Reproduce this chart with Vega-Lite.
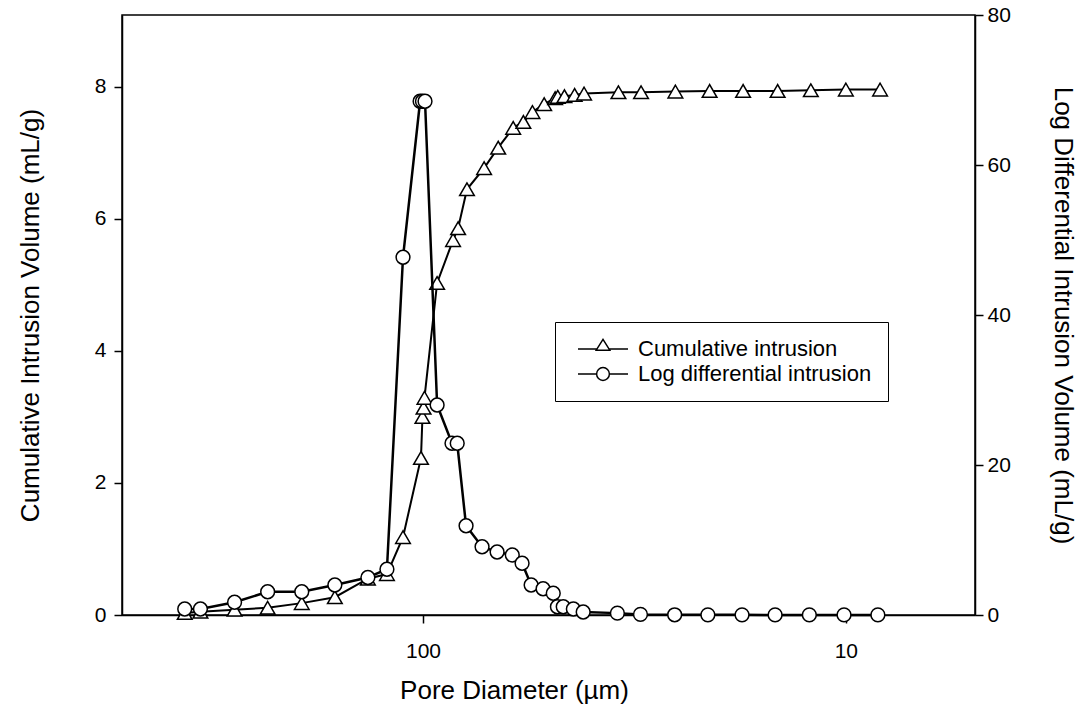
{
  "$schema": "https://vega.github.io/schema/vega-lite/v6.json",
  "autosize": {"type": "none"},
  "width": 853,
  "height": 600,
  "padding": {"left": 122, "top": 15, "right": 103, "bottom": 98},
  "background": "white",
  "config": {
    "view": {"stroke": "black", "strokeWidth": 1.5},
    "font": "Liberation Sans",
    "axis": {
      "labelFont": "Liberation Sans",
      "titleFont": "Liberation Sans",
      "labelFontSize": 21,
      "titleFontSize": 26,
      "titleFontWeight": "normal",
      "labelColor": "black",
      "titleColor": "black",
      "domainColor": "black",
      "domainWidth": 1.5,
      "tickColor": "black",
      "tickWidth": 1.5,
      "tickSize": 8,
      "grid": false
    }
  },
  "datasets": {
    "cum": [
      {"d": 366, "v": 0.03}, {"d": 336, "v": 0.05}, {"d": 279, "v": 0.08}, {"d": 233, "v": 0.11},
      {"d": 193.5, "v": 0.18}, {"d": 161.6, "v": 0.27}, {"d": 135, "v": 0.55}, {"d": 121.7, "v": 0.62},
      {"d": 111.5, "v": 1.18}, {"d": 101.1, "v": 2.38}, {"d": 100.3, "v": 3.0}, {"d": 99.7, "v": 3.14},
      {"d": 99.2, "v": 3.29}, {"d": 92.6, "v": 5.03}, {"d": 84.9, "v": 5.68}, {"d": 82.6, "v": 5.86},
      {"d": 78.7, "v": 6.45}, {"d": 71.7, "v": 6.77}, {"d": 66.4, "v": 7.08}, {"d": 61.2, "v": 7.38},
      {"d": 57.9, "v": 7.47}, {"d": 55.1, "v": 7.62}, {"d": 51.7, "v": 7.74}, {"d": 48.7, "v": 7.83},
      {"d": 48.0, "v": 7.85}, {"d": 46.3, "v": 7.86}, {"d": 43.8, "v": 7.88}, {"d": 41.6, "v": 7.9},
      {"d": 34.5, "v": 7.92}, {"d": 30.5, "v": 7.92}, {"d": 25.3, "v": 7.93}, {"d": 21.0, "v": 7.94},
      {"d": 17.5, "v": 7.94}, {"d": 14.5, "v": 7.94}, {"d": 12.1, "v": 7.95}, {"d": 10.0, "v": 7.96},
      {"d": 8.3, "v": 7.96}
    ],
    "logdiff": [
      {"d": 366, "v": 0.8}, {"d": 336, "v": 0.8}, {"d": 279, "v": 1.7}, {"d": 233, "v": 3.1},
      {"d": 193.5, "v": 3.1}, {"d": 161.6, "v": 4.0}, {"d": 135, "v": 5.0}, {"d": 121.7, "v": 6.1},
      {"d": 111.5, "v": 47.7}, {"d": 101.6, "v": 68.5}, {"d": 100.3, "v": 68.5}, {"d": 98.9, "v": 68.5},
      {"d": 92.6, "v": 28.0}, {"d": 85.4, "v": 22.9}, {"d": 83.0, "v": 22.9}, {"d": 79.1, "v": 11.9},
      {"d": 72.5, "v": 9.1}, {"d": 66.8, "v": 8.4}, {"d": 61.5, "v": 8.0}, {"d": 58.3, "v": 6.9},
      {"d": 55.5, "v": 4.0}, {"d": 52.0, "v": 3.5}, {"d": 49.2, "v": 2.9}, {"d": 48.1, "v": 1.1},
      {"d": 46.6, "v": 1.1}, {"d": 44.1, "v": 0.8}, {"d": 41.8, "v": 0.4}, {"d": 34.7, "v": 0.25},
      {"d": 30.6, "v": 0.08}, {"d": 25.4, "v": 0.03}, {"d": 21.2, "v": 0.02}, {"d": 17.6, "v": 0.02},
      {"d": 14.7, "v": 0.01}, {"d": 12.2, "v": 0.01}, {"d": 10.1, "v": 0.01}, {"d": 8.4, "v": 0.01}
    ]
  },
  "encoding": {
    "x": {
      "field": "d",
      "type": "quantitative",
      "scale": {"type": "log", "domain": [4.95, 515], "reverse": true, "nice": false},
      "axis": {
        "title": "Pore Diameter (µm)",
        "values": [100, 10],
        "format": "d",
        "labelPadding": 17,
        "titlePadding": 16,
        "titleX": 392
      }
    }
  },
  "layer": [
    {
      "data": {"name": "cum"},
      "encoding": {
        "y": {
          "field": "v",
          "type": "quantitative",
          "scale": {"domain": [0, 9.09], "nice": false, "zero": true},
          "axis": {
            "title": "Cumulative Intrusion Volume (mL/g)",
            "orient": "left",
            "values": [0, 2, 4, 6, 8],
            "labelPadding": 8,
            "titlePadding": 51
          }
        }
      },
      "layer": [
        {"mark": {"type": "line", "color": "black", "strokeWidth": 2}},
        {"mark": {"type": "point", "shape": "triangle-up", "filled": true, "fill": "white", "stroke": "black", "strokeWidth": 1.5, "size": 215, "opacity": 1}},
        {
          "data": {"values": []},
          "mark": {"type": "point", "filled": true, "fill": "white", "stroke": "black", "strokeWidth": 1.5, "opacity": 1},
          "encoding": {
            "shape": {
              "datum": "Cumulative intrusion",
              "scale": {"domain": ["Cumulative intrusion", "Log differential intrusion"], "range": ["M-0.5,0H1.87M3.38,0H5.75M2.625,-1.2L3.475,0.15H1.775Z", "M-0.5,0H1.825M3.425,0H5.75M3.425,0A0.8,0.8 0 1,1 1.825,0A0.8,0.8 0 1,1 3.425,0Z"]},
              "legend": {
                "title": null,
                "orient": "none",
                "legendX": 433,
                "legendY": 307,
                "padding": 16,
                "strokeColor": "black",
                "fillColor": "white",
                "symbolSize": 256,
                "labelFont": "Liberation Sans",
                "labelFontSize": 22,
                "labelColor": "black",
                "labelOffset": 45,
                "rowPadding": 3,
                "labelLimit": 400
              }
            }
          }
        }
      ]
    },
    {
      "data": {"name": "logdiff"},
      "encoding": {
        "y": {
          "field": "v",
          "type": "quantitative",
          "scale": {"domain": [0, 80], "nice": false},
          "axis": {
            "title": "Log Differential Intrusion Volume (mL/g)",
            "orient": "right",
            "values": [0, 20, 40, 60, 80],
            "labelPadding": 4,
            "titlePadding": 39
          }
        }
      },
      "layer": [
        {"mark": {"type": "line", "color": "black", "strokeWidth": 2.5}},
        {"mark": {"type": "point", "shape": "circle", "filled": true, "fill": "white", "stroke": "black", "strokeWidth": 1.5, "size": 190, "opacity": 1}},
        {
          "data": {"values": []},
          "mark": {"type": "point", "filled": true, "fill": "white", "stroke": "black", "strokeWidth": 1.5, "opacity": 1},
          "encoding": {
            "shape": {"datum": "Log differential intrusion"}
          }
        }
      ]
    }
  ],
  "resolve": {"scale": {"y": "independent"}}
}
